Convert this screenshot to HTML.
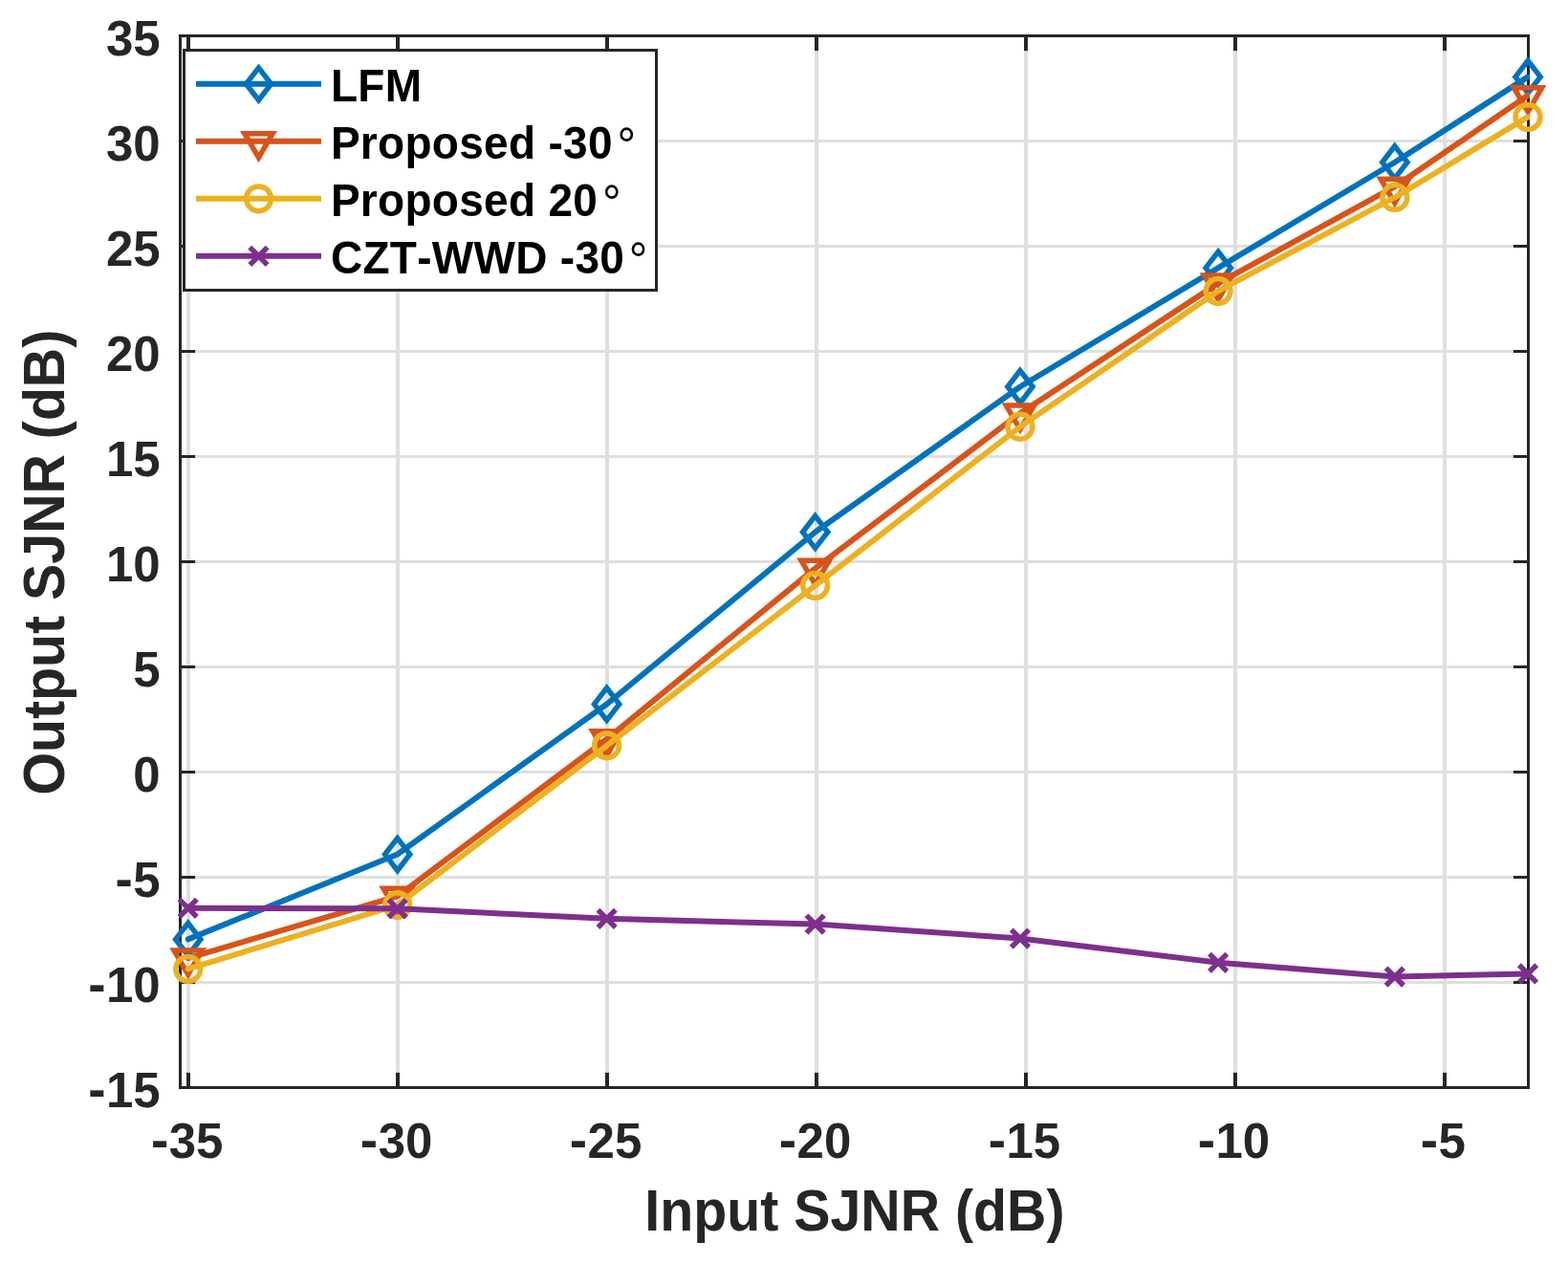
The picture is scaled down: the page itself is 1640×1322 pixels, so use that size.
<!DOCTYPE html>
<html lang="en">
<head>
<meta charset="utf-8">
<title>Output SJNR versus Input SJNR</title>
<style>
html,body{margin:0;padding:0;background:#fff;}
body{width:1640px;height:1322px;overflow:hidden;}
svg{display:block;}
text{font-family:"Liberation Sans", Arial, Helvetica, sans-serif;font-weight:bold;font-kerning:none;}
.tick{font-size:51px;fill:#262626;}
.lab{font-size:57.3px;fill:#262626;}
.leg{font-size:46px;fill:#000;letter-spacing:0.3px;}
.deg{font-weight:normal;letter-spacing:0;}
</style>
</head>
<body>
<svg width="1640" height="1322" viewBox="0 0 1640 1322">
<rect x="0" y="0" width="1640" height="1322" fill="#ffffff"/>
<defs><clipPath id="axclip"><rect x="187.0" y="36.0" width="1413.0" height="1103.0"/></clipPath></defs>
<g stroke="#dfdfdf" stroke-width="3.0" fill="none">
<line x1="197" y1="37.5" x2="197" y2="1137.5" stroke-width="4.0"/>
<line x1="416" y1="37.5" x2="416" y2="1137.5" stroke-width="4.0"/>
<line x1="635" y1="37.5" x2="635" y2="1137.5" stroke-width="4.0"/>
<line x1="854" y1="37.5" x2="854" y2="1137.5" stroke-width="4.0"/>
<line x1="1073" y1="37.5" x2="1073" y2="1137.5" stroke-width="4.0"/>
<line x1="1292" y1="37.5" x2="1292" y2="1137.5" stroke-width="4.0"/>
<line x1="1511" y1="37.5" x2="1511" y2="1137.5" stroke-width="4.0"/>
<line x1="188.5" y1="1027.50" x2="1598.5" y2="1027.50"/>
<line x1="188.5" y1="917.50" x2="1598.5" y2="917.50"/>
<line x1="188.5" y1="807.50" x2="1598.5" y2="807.50"/>
<line x1="188.5" y1="697.50" x2="1598.5" y2="697.50"/>
<line x1="188.5" y1="587.50" x2="1598.5" y2="587.50"/>
<line x1="188.5" y1="477.50" x2="1598.5" y2="477.50"/>
<line x1="188.5" y1="367.50" x2="1598.5" y2="367.50"/>
<line x1="188.5" y1="257.50" x2="1598.5" y2="257.50"/>
<line x1="188.5" y1="147.50" x2="1598.5" y2="147.50"/>
</g>
<g stroke="#262626" stroke-width="3.0" fill="none" stroke-linecap="square">
<rect x="188.5" y="37.5" width="1410.0" height="1100.0"/>
</g>
<g stroke="#262626" stroke-width="3.0" fill="none" stroke-linecap="butt">
<line x1="197" y1="1137.5" x2="197" y2="1121.9" stroke-width="4.0"/>
<line x1="197" y1="37.5" x2="197" y2="53.1" stroke-width="4.0"/>
<line x1="416" y1="1137.5" x2="416" y2="1121.9" stroke-width="4.0"/>
<line x1="416" y1="37.5" x2="416" y2="53.1" stroke-width="4.0"/>
<line x1="635" y1="1137.5" x2="635" y2="1121.9" stroke-width="4.0"/>
<line x1="635" y1="37.5" x2="635" y2="53.1" stroke-width="4.0"/>
<line x1="854" y1="1137.5" x2="854" y2="1121.9" stroke-width="4.0"/>
<line x1="854" y1="37.5" x2="854" y2="53.1" stroke-width="4.0"/>
<line x1="1073" y1="1137.5" x2="1073" y2="1121.9" stroke-width="4.0"/>
<line x1="1073" y1="37.5" x2="1073" y2="53.1" stroke-width="4.0"/>
<line x1="1292" y1="1137.5" x2="1292" y2="1121.9" stroke-width="4.0"/>
<line x1="1292" y1="37.5" x2="1292" y2="53.1" stroke-width="4.0"/>
<line x1="1511" y1="1137.5" x2="1511" y2="1121.9" stroke-width="4.0"/>
<line x1="1511" y1="37.5" x2="1511" y2="53.1" stroke-width="4.0"/>
<line x1="188.5" y1="1137.50" x2="204.1" y2="1137.50"/>
<line x1="1598.5" y1="1137.50" x2="1582.9" y2="1137.50"/>
<line x1="188.5" y1="1027.50" x2="204.1" y2="1027.50"/>
<line x1="1598.5" y1="1027.50" x2="1582.9" y2="1027.50"/>
<line x1="188.5" y1="917.50" x2="204.1" y2="917.50"/>
<line x1="1598.5" y1="917.50" x2="1582.9" y2="917.50"/>
<line x1="188.5" y1="807.50" x2="204.1" y2="807.50"/>
<line x1="1598.5" y1="807.50" x2="1582.9" y2="807.50"/>
<line x1="188.5" y1="697.50" x2="204.1" y2="697.50"/>
<line x1="1598.5" y1="697.50" x2="1582.9" y2="697.50"/>
<line x1="188.5" y1="587.50" x2="204.1" y2="587.50"/>
<line x1="1598.5" y1="587.50" x2="1582.9" y2="587.50"/>
<line x1="188.5" y1="477.50" x2="204.1" y2="477.50"/>
<line x1="1598.5" y1="477.50" x2="1582.9" y2="477.50"/>
<line x1="188.5" y1="367.50" x2="204.1" y2="367.50"/>
<line x1="1598.5" y1="367.50" x2="1582.9" y2="367.50"/>
<line x1="188.5" y1="257.50" x2="204.1" y2="257.50"/>
<line x1="1598.5" y1="257.50" x2="1582.9" y2="257.50"/>
<line x1="188.5" y1="147.50" x2="204.1" y2="147.50"/>
<line x1="1598.5" y1="147.50" x2="1582.9" y2="147.50"/>
<line x1="188.5" y1="37.50" x2="204.1" y2="37.50"/>
<line x1="1598.5" y1="37.50" x2="1582.9" y2="37.50"/>
</g>
<polyline points="196.73,982.40 415.68,893.52 634.62,736.44 852.65,556.48 1066.99,404.46 1274.16,280.16 1458.81,169.72 1598.06,80.40" fill="none" stroke="#0072bd" stroke-width="6.0" stroke-linejoin="round" stroke-linecap="round" clip-path="url(#axclip)"/>
<g>
<path d="M196.73 965.50L209.83 982.40L196.73 999.30L183.63 982.40Z" fill="none" stroke="#0072bd" stroke-width="5.5" stroke-linejoin="miter" stroke-miterlimit="10"/>
<path d="M415.68 876.62L428.78 893.52L415.68 910.42L402.58 893.52Z" fill="none" stroke="#0072bd" stroke-width="5.5" stroke-linejoin="miter" stroke-miterlimit="10"/>
<path d="M634.62 719.54L647.72 736.44L634.62 753.34L621.52 736.44Z" fill="none" stroke="#0072bd" stroke-width="5.5" stroke-linejoin="miter" stroke-miterlimit="10"/>
<path d="M852.65 539.58L865.75 556.48L852.65 573.38L839.55 556.48Z" fill="none" stroke="#0072bd" stroke-width="5.5" stroke-linejoin="miter" stroke-miterlimit="10"/>
<path d="M1066.99 387.56L1080.09 404.46L1066.99 421.36L1053.89 404.46Z" fill="none" stroke="#0072bd" stroke-width="5.5" stroke-linejoin="miter" stroke-miterlimit="10"/>
<path d="M1274.16 263.26L1287.26 280.16L1274.16 297.06L1261.06 280.16Z" fill="none" stroke="#0072bd" stroke-width="5.5" stroke-linejoin="miter" stroke-miterlimit="10"/>
<path d="M1458.81 152.82L1471.91 169.72L1458.81 186.62L1445.71 169.72Z" fill="none" stroke="#0072bd" stroke-width="5.5" stroke-linejoin="miter" stroke-miterlimit="10"/>
<path d="M1598.06 63.50L1611.16 80.40L1598.06 97.30L1584.96 80.40Z" fill="none" stroke="#0072bd" stroke-width="5.5" stroke-linejoin="miter" stroke-miterlimit="10"/>
</g>
<polyline points="196.73,1002.20 415.68,937.30 634.62,772.96 852.65,594.32 1066.99,432.18 1274.16,296.22 1458.81,195.24 1598.06,99.76" fill="none" stroke="#d95319" stroke-width="6.0" stroke-linejoin="round" stroke-linecap="round" clip-path="url(#axclip)"/>
<g>
<path d="M182.03 994.10L211.43 994.10L196.73 1019.20Z" fill="none" stroke="#d95319" stroke-width="5.5" stroke-linejoin="miter" stroke-miterlimit="10"/>
<path d="M400.98 929.20L430.38 929.20L415.68 954.30Z" fill="none" stroke="#d95319" stroke-width="5.5" stroke-linejoin="miter" stroke-miterlimit="10"/>
<path d="M619.92 764.86L649.32 764.86L634.62 789.96Z" fill="none" stroke="#d95319" stroke-width="5.5" stroke-linejoin="miter" stroke-miterlimit="10"/>
<path d="M837.95 586.22L867.35 586.22L852.65 611.32Z" fill="none" stroke="#d95319" stroke-width="5.5" stroke-linejoin="miter" stroke-miterlimit="10"/>
<path d="M1052.29 424.08L1081.69 424.08L1066.99 449.18Z" fill="none" stroke="#d95319" stroke-width="5.5" stroke-linejoin="miter" stroke-miterlimit="10"/>
<path d="M1259.46 288.12L1288.86 288.12L1274.16 313.22Z" fill="none" stroke="#d95319" stroke-width="5.5" stroke-linejoin="miter" stroke-miterlimit="10"/>
<path d="M1444.11 187.14L1473.51 187.14L1458.81 212.24Z" fill="none" stroke="#d95319" stroke-width="5.5" stroke-linejoin="miter" stroke-miterlimit="10"/>
<path d="M1583.36 91.66L1612.76 91.66L1598.06 116.76Z" fill="none" stroke="#d95319" stroke-width="5.5" stroke-linejoin="miter" stroke-miterlimit="10"/>
</g>
<polyline points="196.73,1013.42 415.68,946.54 634.62,779.78 852.65,612.36 1066.99,446.26 1274.16,304.36 1458.81,206.46 1598.06,122.42" fill="none" stroke="#edb120" stroke-width="6.0" stroke-linejoin="round" stroke-linecap="round" clip-path="url(#axclip)"/>
<g>
<circle cx="196.73" cy="1013.42" r="12.9" fill="none" stroke="#edb120" stroke-width="5.5" stroke-linejoin="miter" stroke-miterlimit="10"/>
<circle cx="415.68" cy="946.54" r="12.9" fill="none" stroke="#edb120" stroke-width="5.5" stroke-linejoin="miter" stroke-miterlimit="10"/>
<circle cx="634.62" cy="779.78" r="12.9" fill="none" stroke="#edb120" stroke-width="5.5" stroke-linejoin="miter" stroke-miterlimit="10"/>
<circle cx="852.65" cy="612.36" r="12.9" fill="none" stroke="#edb120" stroke-width="5.5" stroke-linejoin="miter" stroke-miterlimit="10"/>
<circle cx="1066.99" cy="446.26" r="12.9" fill="none" stroke="#edb120" stroke-width="5.5" stroke-linejoin="miter" stroke-miterlimit="10"/>
<circle cx="1274.16" cy="304.36" r="12.9" fill="none" stroke="#edb120" stroke-width="5.5" stroke-linejoin="miter" stroke-miterlimit="10"/>
<circle cx="1458.81" cy="206.46" r="12.9" fill="none" stroke="#edb120" stroke-width="5.5" stroke-linejoin="miter" stroke-miterlimit="10"/>
<circle cx="1598.06" cy="122.42" r="12.9" fill="none" stroke="#edb120" stroke-width="5.5" stroke-linejoin="miter" stroke-miterlimit="10"/>
</g>
<polyline points="196.73,949.84 415.68,950.28 634.62,960.84 852.65,966.56 1066.99,981.52 1274.16,1006.82 1458.81,1021.56 1598.06,1018.48" fill="none" stroke="#7e2f8e" stroke-width="6.0" stroke-linejoin="round" stroke-linecap="round" clip-path="url(#axclip)"/>
<g>
<path d="M187.53 940.64L205.93 959.04M187.53 959.04L205.93 940.64" fill="none" stroke="#7e2f8e" stroke-width="5.5" stroke-linejoin="miter" stroke-miterlimit="10" stroke-linecap="butt"/>
<path d="M406.48 941.08L424.88 959.48M406.48 959.48L424.88 941.08" fill="none" stroke="#7e2f8e" stroke-width="5.5" stroke-linejoin="miter" stroke-miterlimit="10" stroke-linecap="butt"/>
<path d="M625.42 951.64L643.82 970.04M625.42 970.04L643.82 951.64" fill="none" stroke="#7e2f8e" stroke-width="5.5" stroke-linejoin="miter" stroke-miterlimit="10" stroke-linecap="butt"/>
<path d="M843.45 957.36L861.85 975.76M843.45 975.76L861.85 957.36" fill="none" stroke="#7e2f8e" stroke-width="5.5" stroke-linejoin="miter" stroke-miterlimit="10" stroke-linecap="butt"/>
<path d="M1057.79 972.32L1076.19 990.72M1057.79 990.72L1076.19 972.32" fill="none" stroke="#7e2f8e" stroke-width="5.5" stroke-linejoin="miter" stroke-miterlimit="10" stroke-linecap="butt"/>
<path d="M1264.96 997.62L1283.36 1016.02M1264.96 1016.02L1283.36 997.62" fill="none" stroke="#7e2f8e" stroke-width="5.5" stroke-linejoin="miter" stroke-miterlimit="10" stroke-linecap="butt"/>
<path d="M1449.61 1012.36L1468.01 1030.76M1449.61 1030.76L1468.01 1012.36" fill="none" stroke="#7e2f8e" stroke-width="5.5" stroke-linejoin="miter" stroke-miterlimit="10" stroke-linecap="butt"/>
<path d="M1588.86 1009.28L1607.26 1027.68M1588.86 1027.68L1607.26 1009.28" fill="none" stroke="#7e2f8e" stroke-width="5.5" stroke-linejoin="miter" stroke-miterlimit="10" stroke-linecap="butt"/>
</g>
<g class="tick">
<text transform="translate(93.99 1158.40) scale(1 1.02)"><tspan x="-1.85" y="-0.2" font-size="55">-</tspan><tspan x="16.98" y="0">15</tspan></text>
<text transform="translate(93.99 1048.40) scale(1 1.02)"><tspan x="-1.85" y="-0.2" font-size="55">-</tspan><tspan x="16.98" y="0">10</tspan></text>
<text transform="translate(122.35 938.40) scale(1 1.02)"><tspan x="-1.85" y="-0.2" font-size="55">-</tspan><tspan x="16.98" y="0">5</tspan></text>
<text transform="translate(139.34 828.40) scale(1 1.02)">0</text>
<text transform="translate(139.34 718.40) scale(1 1.02)">5</text>
<text transform="translate(110.97 608.40) scale(1 1.02)">10</text>
<text transform="translate(110.97 498.40) scale(1 1.02)">15</text>
<text transform="translate(110.97 388.40) scale(1 1.02)">20</text>
<text transform="translate(110.97 278.40) scale(1 1.02)">25</text>
<text transform="translate(110.97 168.40) scale(1 1.02)">30</text>
<text transform="translate(110.97 58.40) scale(1 1.02)">35</text>
</g>
<g class="tick">
<text transform="translate(159.75 1211.30) scale(1 1.02)"><tspan x="-1.85" y="-0.2" font-size="55">-</tspan><tspan x="16.98" y="0">35</tspan></text>
<text transform="translate(378.70 1211.30) scale(1 1.02)"><tspan x="-1.85" y="-0.2" font-size="55">-</tspan><tspan x="16.98" y="0">30</tspan></text>
<text transform="translate(597.64 1211.30) scale(1 1.02)"><tspan x="-1.85" y="-0.2" font-size="55">-</tspan><tspan x="16.98" y="0">25</tspan></text>
<text transform="translate(816.58 1211.30) scale(1 1.02)"><tspan x="-1.85" y="-0.2" font-size="55">-</tspan><tspan x="16.98" y="0">20</tspan></text>
<text transform="translate(1035.53 1211.30) scale(1 1.02)"><tspan x="-1.85" y="-0.2" font-size="55">-</tspan><tspan x="16.98" y="0">15</tspan></text>
<text transform="translate(1254.47 1211.30) scale(1 1.02)"><tspan x="-1.85" y="-0.2" font-size="55">-</tspan><tspan x="16.98" y="0">10</tspan></text>
<text transform="translate(1487.60 1211.30) scale(1 1.02)"><tspan x="-1.85" y="-0.2" font-size="55">-</tspan><tspan x="16.98" y="0">5</tspan></text>
</g>
<text class="lab" text-anchor="middle" transform="translate(893.9 1287) scale(1 1.05)">Input SJNR (dB)</text>
<text class="lab" text-anchor="middle" transform="translate(67 588.1) rotate(-90) scale(1 1.05)">Output SJNR (dB)</text>
<rect x="192.5" y="52.5" width="494.0" height="251.0" fill="#ffffff" stroke="#262626" stroke-width="3.0"/>
<line x1="205" y1="87.8" x2="336" y2="87.8" stroke="#0072bd" stroke-width="6.0"/>
<path d="M270.50 70.90L283.60 87.80L270.50 104.70L257.40 87.80Z" fill="none" stroke="#0072bd" stroke-width="5.5" stroke-linejoin="miter" stroke-miterlimit="10"/>
<text class="leg" transform="translate(345.9 106.00) scale(1 1.055)">LFM</text>
<line x1="205" y1="147.8" x2="336" y2="147.8" stroke="#d95319" stroke-width="6.0"/>
<path d="M255.80 139.70L285.20 139.70L270.50 164.80Z" fill="none" stroke="#d95319" stroke-width="5.5" stroke-linejoin="miter" stroke-miterlimit="10"/>
<text class="leg" transform="translate(345.9 166.00) scale(1 1.055)">Proposed -30<tspan class="deg" dx="4.7" dy="3.6" font-size="49">°</tspan></text>
<line x1="205" y1="207.8" x2="336" y2="207.8" stroke="#edb120" stroke-width="6.0"/>
<circle cx="270.50" cy="207.80" r="12.9" fill="none" stroke="#edb120" stroke-width="5.5" stroke-linejoin="miter" stroke-miterlimit="10"/>
<text class="leg" transform="translate(345.9 226.00) scale(1 1.055)">Proposed 20<tspan class="deg" dx="4.7" dy="3.6" font-size="49">°</tspan></text>
<line x1="205" y1="267.8" x2="336" y2="267.8" stroke="#7e2f8e" stroke-width="6.0"/>
<path d="M261.30 258.60L279.70 277.00M261.30 277.00L279.70 258.60" fill="none" stroke="#7e2f8e" stroke-width="5.5" stroke-linejoin="miter" stroke-miterlimit="10" stroke-linecap="butt"/>
<text class="leg" transform="translate(345.9 286.00) scale(1 1.055)">CZT-WWD -30<tspan class="deg" dx="4.7" dy="3.6" font-size="49">°</tspan></text>
</svg>
</body>
</html>
